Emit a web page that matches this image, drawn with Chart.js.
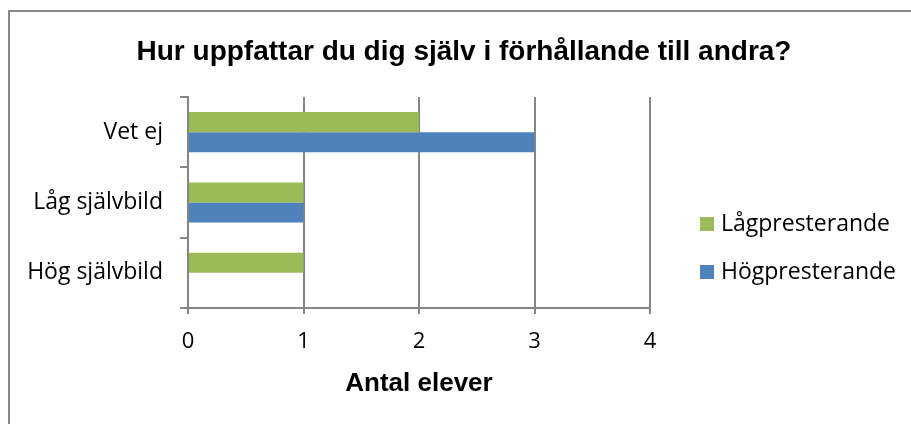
<!DOCTYPE html>
<html>
<head>
<meta charset="utf-8">
<script src="https://cdn.jsdelivr.net/npm/chart.js@4.4.1/dist/chart.umd.min.js"></script>
<style>
  body { margin: 0; background: #fff; overflow: hidden; }
  #frame { position: absolute; left: 8px; top: 10px; width: 1000px; height: 500px;
           border-left: 2px solid #888; border-top: 2px solid #888; }
  #wrap { position: absolute; left: 0; top: 0; width: 911px; height: 424px; }
</style>
</head>
<body>
<div id="frame"></div>
<div id="wrap"><canvas id="myChart" width="911" height="424"></canvas></div>
<script>
const chartTitle = "Hur uppfattar du dig själv i förhållande till andra?";
const axisTitle = "Antal elever";
const categories = ["Vet ej", "Låg självbild", "Hög självbild"];
const seriesNames = ["Lågpresterande", "Högpresterande"];
const lagValues = [2, 1, 1];
const hogValues = [3, 1, 0];
const xTicks = [0, 1, 2, 3, 4];

const gray = "#868686";
const labelFont = "'Open Sans', sans-serif";

// title and legend drawn by hand so the plot area can sit where it does in the picture
const extras = {
  id: "extras",
  afterDraw(chart) {
    const ctx = chart.ctx;
    ctx.save();
    ctx.fillStyle = "#000";
    ctx.font = "bold 28px 'Liberation Sans', Arial, sans-serif";
    ctx.textAlign = "center";
    ctx.textBaseline = "middle";
    ctx.fillText(chartTitle, 464, 52);

    ctx.font = "23px " + labelFont;
    ctx.textAlign = "left";
    chart.data.datasets.forEach((ds, i) => {
      const y = 224 + i * 48;
      ctx.fillStyle = ds.backgroundColor;
      ctx.fillRect(700, y - 7, 14, 14);
      ctx.fillStyle = "#000";
      ctx.fillText(ds.label, 721, y);
    });
    ctx.restore();
  }
};

let myChart = document.getElementById("myChart").getContext("2d");
new Chart(myChart, {
  type: "bar",
  data: {
    labels: categories,
    datasets: [{
      label: seriesNames[0],
      data: lagValues,
      backgroundColor: "#9BBB59"
    }, {
      label: seriesNames[1],
      data: hogValues,
      backgroundColor: "#4F81BD"
    }]
  },
  options: {
    indexAxis: "y",
    responsive: false,
    animation: false,
    categoryPercentage: 0.57,
    barPercentage: 1,
    layout: { padding: { left: 10, right: 261, top: 97, bottom: 10 } },
    plugins: {
      legend: { display: false },
      title: { display: false },
      tooltip: { enabled: false }
    },
    scales: {
      y: {
        grid: { offset: true, drawOnChartArea: false, drawTicks: true, tickLength: 8, color: gray, lineWidth: 2 },
        border: { color: gray, width: 2 },
        ticks: { color: "#000", font: { family: labelFont, size: 23 }, padding: 17 },
        afterFit(scale) { scale.width = 178; }
      },
      x: {
        min: 0,
        max: 4,
        afterBuildTicks(scale) { scale.ticks = xTicks.map(v => ({ value: v })); },
        grid: { color: gray, lineWidth: 2, tickLength: 6 },
        border: { color: gray, width: 2 },
        ticks: { color: "#000", font: { family: labelFont, size: 22 }, padding: 15 },
        title: {
          display: true,
          text: axisTitle,
          color: "#000",
          font: { family: "'Liberation Sans', Arial, sans-serif", size: 26, weight: "bold" },
          padding: { top: 4, bottom: 15 }
        },
        afterFit(scale) { scale.height = 106; }
      }
    }
  },
  plugins: [extras]
});
</script>
</body>
</html>
